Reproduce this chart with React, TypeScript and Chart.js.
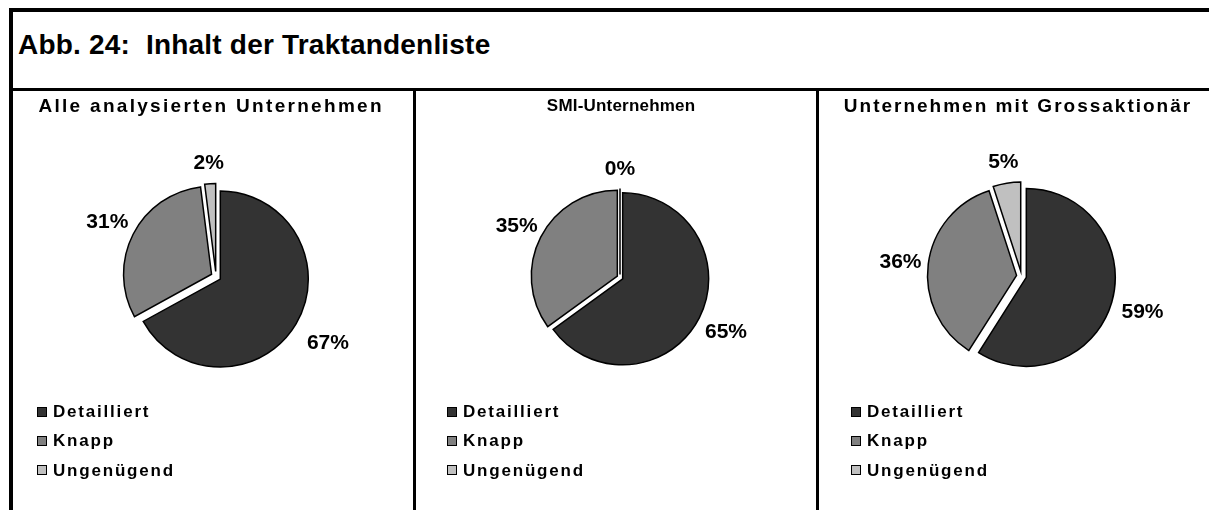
import React, { useEffect, useRef } from "react";
import { Chart, registerables } from "chart.js";

Chart.register(...registerables);

// ---------------- data ----------------
const FIGURE_TITLE = "Abb. 24:  Inhalt der Traktandenliste";
const CATEGORIES = ["Detailliert", "Knapp", "Ungenügend"];
const PANEL_TITLES = [
  "Alle analysierten Unternehmen",
  "SMI-Unternehmen",
  "Unternehmen mit Grossaktionär",
];
const ALLE_VALUES = [67, 31, 2];
const SMI_VALUES = [65, 35, 0];
const GROSS_VALUES = [59, 36, 5];
const PANEL_VALUES = [ALLE_VALUES, SMI_VALUES, GROSS_VALUES];

// ---------------- style ----------------
const SLICE_COLORS = ["#333333", "#808080", "#c0c0c0"];
const FONT = '"Liberation Sans", Arial, Helvetica, sans-serif';
const HEADER_LINE_Y = 88;
const CANVAS_TOP = HEADER_LINE_Y + 3;
const CANVAS_H = 510 - CANVAS_TOP;

type PanelStyle = {
  left: number;
  width: number;
  cx: number;
  cy: number;
  radius: number;
  explode: number;
  labelGap: number[];
  legendX: number;
  titleCenter: number;
  titleSize: number;
  titleSpacing: number;
};

const PANELS: PanelStyle[] = [
  { left: 13, width: 400, cx: 216, cy: 276.5, radius: 88, explode: 5, labelGap: [42, 34, 27], legendX: 37, titleCenter: 210, titleSize: 19, titleSpacing: 2.3 },
  { left: 416, width: 400, cx: 620, cy: 277.5, radius: 86, explode: 3, labelGap: [33, 30, 23], legendX: 447, titleCenter: 621, titleSize: 17, titleSpacing: 0.2 },
  { left: 819, width: 390, cx: 1021.5, cy: 276, radius: 89, explode: 5, labelGap: [37, 33, 27], legendX: 851, titleCenter: 1017, titleSize: 19, titleSpacing: 2 },
];

const explodePlugin = (t: number) => ({
  id: "explodeSlices",
  beforeDatasetDraw(chart: any, args: any) {
    const ctx = chart.ctx as CanvasRenderingContext2D;
    args.meta.data.forEach((arc: any) => {
      const mid = (arc.startAngle + arc.endAngle) / 2;
      ctx.save();
      ctx.translate(Math.cos(mid) * t, Math.sin(mid) * t);
      if (arc.circumference > 0) {
        arc.draw(ctx);
      } else {
        ctx.beginPath();
        ctx.moveTo(arc.x, arc.y);
        ctx.lineTo(
          arc.x + Math.cos(arc.startAngle) * arc.outerRadius,
          arc.y + Math.sin(arc.startAngle) * arc.outerRadius
        );
        ctx.strokeStyle = arc.options.borderColor;
        ctx.lineWidth = arc.options.borderWidth;
        ctx.stroke();
      }
      ctx.restore();
    });
    return false;
  },
});

const labelPlugin = (gaps: number[]) => ({
  id: "pctLabels",
  afterDatasetsDraw(chart: any) {
    const ctx = chart.ctx as CanvasRenderingContext2D;
    const meta = chart.getDatasetMeta(0);
    const values = chart.data.datasets[0].data as number[];
    const total = values.reduce((a, b) => a + b, 0);
    ctx.save();
    ctx.font = `bold 21px ${FONT}`;
    ctx.fillStyle = "#000";
    ctx.textAlign = "center";
    ctx.textBaseline = "middle";
    meta.data.forEach((arc: any, i: number) => {
      const mid = (arc.startAngle + arc.endAngle) / 2;
      const d = arc.outerRadius + gaps[i];
      ctx.fillText(
        `${Math.round((values[i] / total) * 100)}%`,
        arc.x + Math.cos(mid) * d,
        arc.y + Math.sin(mid) * d + 1
      );
    });
    ctx.restore();
  },
});

function PiePanel({ index }: { index: number }) {
  const ref = useRef<HTMLCanvasElement>(null);
  const p = PANELS[index];
  const values = PANEL_VALUES[index];

  useEffect(() => {
    const canvas = ref.current;
    if (!canvas) return;
    const half = 100;
    const relX = p.cx - p.left;
    const relY = p.cy - CANVAS_TOP;
    const chart = new Chart(canvas, {
      type: "pie",
      data: {
        labels: CATEGORIES,
        datasets: [
          {
            data: values,
            backgroundColor: SLICE_COLORS,
            borderColor: "#000",
            borderWidth: 1.5,
            borderJoinStyle: "miter",
            radius: p.radius,
          } as any,
        ],
      },
      options: {
        animation: false,
        responsive: false,
        maintainAspectRatio: false,
        devicePixelRatio: 1,
        events: [],
        layout: {
          padding: {
            left: relX - half,
            right: p.width - relX - half,
            top: relY - half,
            bottom: CANVAS_H - relY - half,
          },
        },
        plugins: {
          legend: { display: false },
          tooltip: { enabled: false },
          title: { display: false },
        },
      },
      plugins: [explodePlugin(p.explode), labelPlugin(p.labelGap)],
    });
    return () => chart.destroy();
  }, []);

  return (
    <div
      style={{
        position: "absolute",
        left: p.left,
        top: CANVAS_TOP,
        width: p.width,
        height: CANVAS_H,
      }}
    >
      <canvas
        ref={ref}
        width={p.width}
        height={CANVAS_H}
        style={{ position: "absolute", left: 0, top: 0, width: p.width, height: CANVAS_H }}
      />
      <div
        style={{
          position: "absolute",
          left: p.titleCenter - p.left - 300,
          top: 105 - CANVAS_TOP - p.titleSize / 2,
          width: 600,
          textAlign: "center",
          fontSize: p.titleSize,
          lineHeight: `${p.titleSize}px`,
          fontWeight: 700,
          letterSpacing: p.titleSpacing,
          paddingLeft: p.titleSpacing,
          boxSizing: "border-box",
          whiteSpace: "nowrap",
        }}
      >
        {PANEL_TITLES[index]}
      </div>
      <div style={{ position: "absolute", left: p.legendX - p.left, top: 412 - CANVAS_TOP - 15 }}>
        {CATEGORIES.map((c, i) => (
          <div key={c} style={{ display: "flex", alignItems: "center", height: 29.3 }}>
            <span
              style={{
                display: "inline-block",
                width: 10,
                height: 10,
                background: SLICE_COLORS[i],
                border: "1px solid #000",
                boxSizing: "border-box",
                marginRight: 6,
              }}
            />
            <span style={{ fontSize: 17, lineHeight: "17px", fontWeight: 700, letterSpacing: 1.8 }}>{c}</span>
          </div>
        ))}
      </div>
    </div>
  );
}

export default function App() {
  return (
    <div
      style={{
        position: "absolute",
        left: 0,
        top: 0,
        width: 1209,
        height: 510,
        background: "#fff",
        overflow: "hidden",
        fontFamily: FONT,
        color: "#000",
      }}
    >
      <div style={{ position: "absolute", left: 9, top: 8, width: 1200, height: 4, background: "#000" }} />
      <div style={{ position: "absolute", left: 9, top: 8, width: 4, height: 502, background: "#000" }} />
      <div style={{ position: "absolute", left: 9, top: HEADER_LINE_Y, width: 1200, height: 3, background: "#000" }} />
      <div style={{ position: "absolute", left: 413, top: HEADER_LINE_Y, width: 3, height: 510 - HEADER_LINE_Y, background: "#000" }} />
      <div style={{ position: "absolute", left: 816, top: HEADER_LINE_Y, width: 3, height: 510 - HEADER_LINE_Y, background: "#000" }} />
      <div
        style={{
          position: "absolute",
          left: 18,
          top: 45 - 14,
          fontSize: 28,
          lineHeight: "28px",
          fontWeight: 700,
          letterSpacing: 0.2,
          whiteSpace: "pre",
        }}
      >
        {FIGURE_TITLE}
      </div>
      {PANELS.map((_, i) => (
        <PiePanel key={i} index={i} />
      ))}
    </div>
  );
}
